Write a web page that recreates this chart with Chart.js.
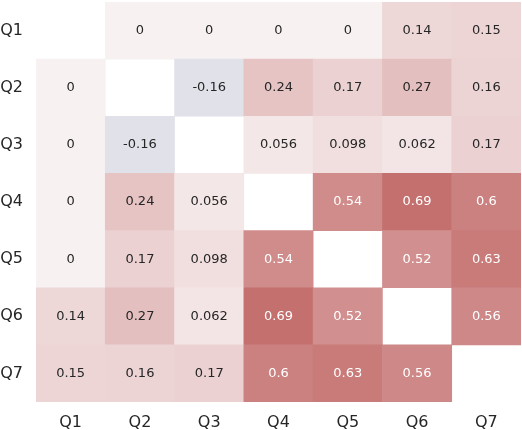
<!DOCTYPE html>
<html>
<head>
<meta charset="utf-8">
<script src="https://cdn.jsdelivr.net/npm/chart.js@4"></script>
<style>
html,body{margin:0;padding:0;background:#fff;}
#wrap{width:522px;height:430px;position:relative;}
</style>
</head>
<body>
<div id="wrap"><canvas id="c"></canvas></div>
<script>
const labels = ['Q1','Q2','Q3','Q4','Q5','Q6','Q7'];
const rowQ1 = [null, 0, 0, 0, 0, 0.14, 0.15];
const rowQ2 = [0, null, -0.16, 0.24, 0.17, 0.27, 0.16];
const rowQ3 = [0, -0.16, null, 0.056, 0.098, 0.062, 0.17];
const rowQ4 = [0, 0.24, 0.056, null, 0.54, 0.69, 0.6];
const rowQ5 = [0, 0.17, 0.098, 0.54, null, 0.52, 0.63];
const rowQ6 = [0.14, 0.27, 0.062, 0.69, 0.52, null, 0.56];
const rowQ7 = [0.15, 0.16, 0.17, 0.6, 0.63, 0.56, null];
const rows = [rowQ1, rowQ2, rowQ3, rowQ4, rowQ5, rowQ6, rowQ7];

function colorFor(v){
  if (v === null) return 'rgba(255,255,255,0)';
  const mid = [248,241,242];
  let c;
  if (v >= 0) {
    const hi = [173,54,52];
    c = mid.map((m,i)=>m + (hi[i]-m)*v);
  } else {
    const lo = [104,141,186];
    c = mid.map((m,i)=>m + (lo[i]-m)*(-v));
  }
  return 'rgb(' + c.map(x=>Math.round(x)).join(',') + ')';
}

const datasets = [];
for (let r = 6; r >= 0; r--) {
  datasets.push({
    label: labels[r],
    rowIndex: r,
    data: labels.map(()=>1),
    backgroundColor: rows[r].map(colorFor),
    borderWidth: 0,
    barPercentage: 1.0,
    categoryPercentage: 1.0
  });
}

const valuePlugin = {
  id: 'cellValues',
  afterDatasetsDraw(chart){
    const ctx = chart.ctx;
    ctx.save();
    ctx.font = '13px "DejaVu Sans"';
    ctx.textAlign = 'center';
    ctx.textBaseline = 'middle';
    chart.data.datasets.forEach((ds, di) => {
      const meta = chart.getDatasetMeta(di);
      const row = rows[ds.rowIndex];
      meta.data.forEach((el, ci) => {
        const v = row[ci];
        if (v === null) return;
        const cy = (el.y + el.base) / 2;
        ctx.fillStyle = v >= 0.45 ? '#ffffff' : '#262626';
        ctx.fillText(String(v), el.x, cy);
      });
    });
    ctx.restore();
  }
};

new Chart(document.getElementById('c'), {
  type: 'bar',
  data: { labels: labels, datasets: datasets },
  options: {
    responsive: true,
    maintainAspectRatio: false,
    animation: false,
    layout: { padding: { top: 2, right: 1, left: 0, bottom: 0 } },
    plugins: { legend: { display: false }, tooltip: { enabled: false } },
    scales: {
      x: {
        stacked: true,
        grid: { display: false, drawTicks: false },
        border: { display: false },
        ticks: { color: '#262626', font: { family: 'DejaVu Sans', size: 16 }, padding: 11, maxRotation: 0 },
        afterFit(s){ s.height = 28; s.paddingLeft = 0; s.paddingRight = 0; }
      },
      y: {
        stacked: true,
        min: 0, max: 7,
        grid: { display: false, drawTicks: false },
        border: { display: false },
        afterBuildTicks(s){ s.ticks = [0.5,1.5,2.5,3.5,4.5,5.5,6.5].map(v=>({value:v})); },
        ticks: {
          color: '#262626',
          font: { family: 'DejaVu Sans', size: 16 },
          padding: 13,
          callback(v){ return labels[Math.round(6.5 - v)]; }
        },
        afterFit(s){ s.width = 36; s.paddingTop = 0; s.paddingBottom = 0; }
      }
    }
  },
  plugins: [valuePlugin]
});
</script>
</body>
</html>
